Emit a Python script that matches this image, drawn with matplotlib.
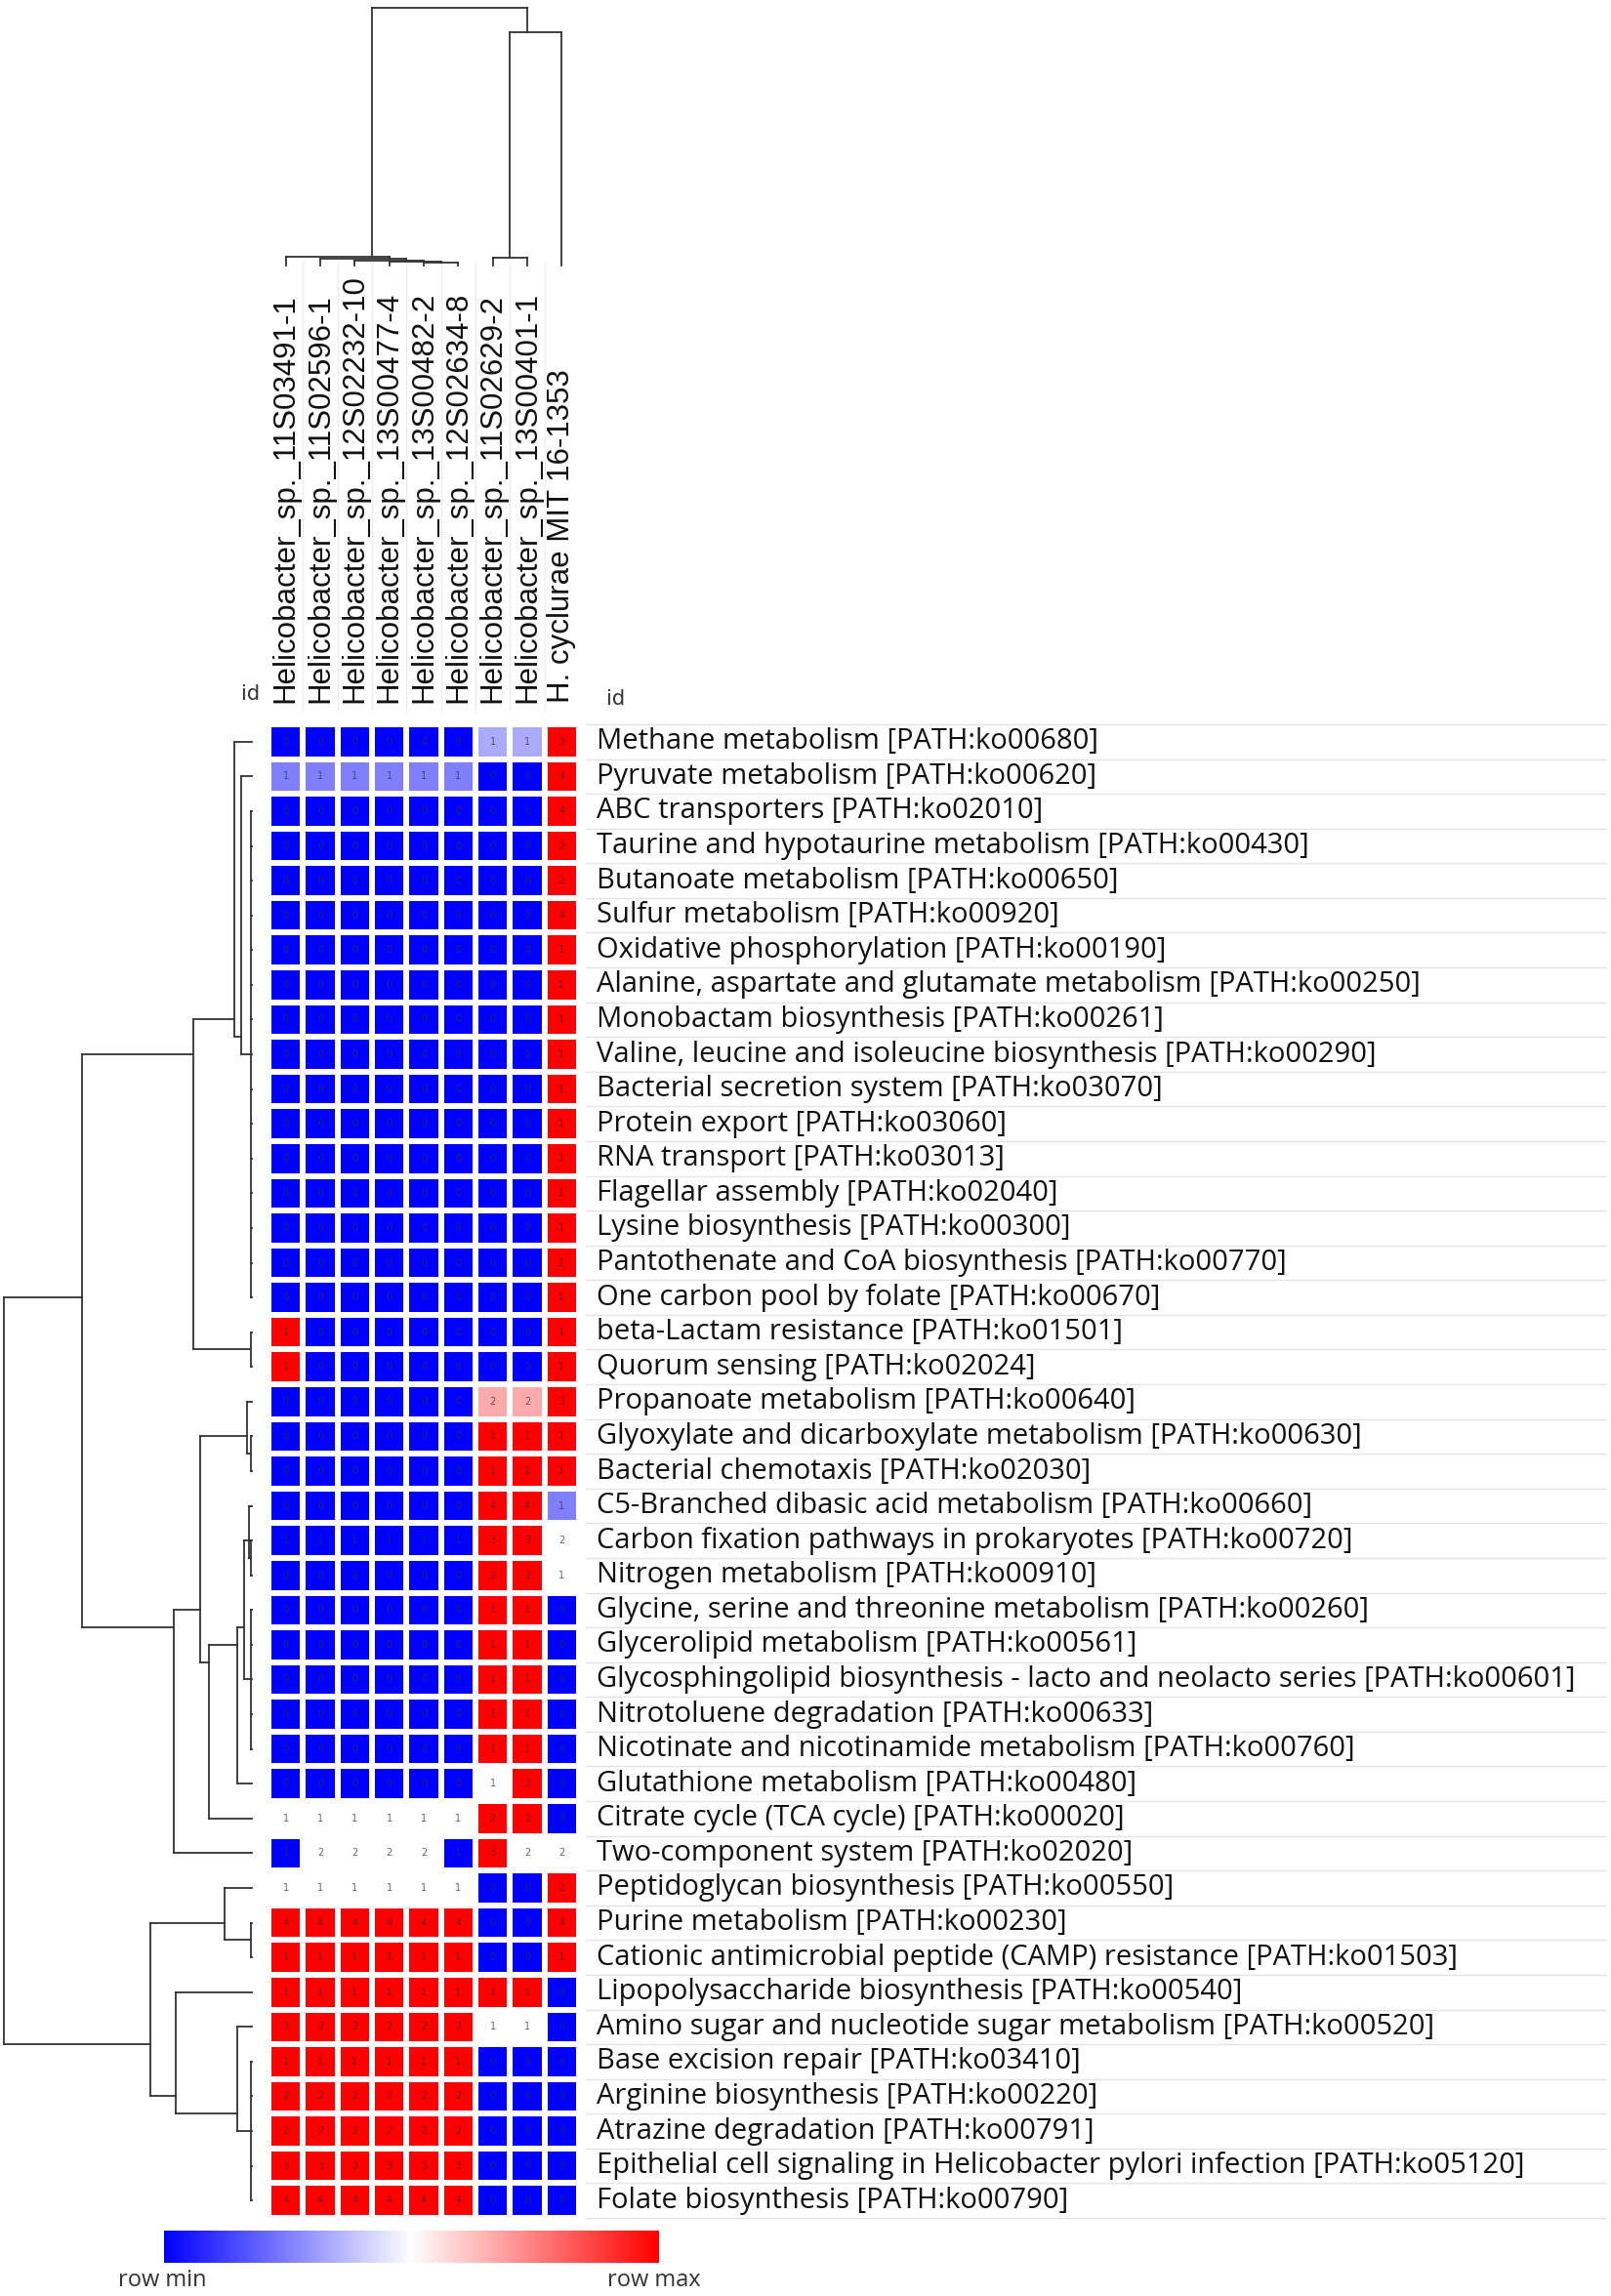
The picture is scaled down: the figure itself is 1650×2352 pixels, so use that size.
import numpy as np
import matplotlib
matplotlib.use("Agg")
import matplotlib.pyplot as plt
from matplotlib.colors import LinearSegmentedColormap

# column (genome) labels, left to right
genomes = ["Helicobacter_sp._11S03491-1", "Helicobacter_sp._11S02596-1",
           "Helicobacter_sp._12S02232-10", "Helicobacter_sp._13S00477-4",
           "Helicobacter_sp._13S00482-2", "Helicobacter_sp._12S02634-8",
           "Helicobacter_sp._11S02629-2", "Helicobacter_sp._13S00401-1",
           "H. cyclurae MIT 16-1353"]

# row (pathway) labels, top to bottom
pathways = [
    "Methane metabolism [PATH:ko00680]",
    "Pyruvate metabolism [PATH:ko00620]",
    "ABC transporters [PATH:ko02010]",
    "Taurine and hypotaurine metabolism [PATH:ko00430]",
    "Butanoate metabolism [PATH:ko00650]",
    "Sulfur metabolism [PATH:ko00920]",
    "Oxidative phosphorylation [PATH:ko00190]",
    "Alanine, aspartate and glutamate metabolism [PATH:ko00250]",
    "Monobactam biosynthesis [PATH:ko00261]",
    "Valine, leucine and isoleucine biosynthesis [PATH:ko00290]",
    "Bacterial secretion system [PATH:ko03070]",
    "Protein export [PATH:ko03060]",
    "RNA transport [PATH:ko03013]",
    "Flagellar assembly [PATH:ko02040]",
    "Lysine biosynthesis [PATH:ko00300]",
    "Pantothenate and CoA biosynthesis [PATH:ko00770]",
    "One carbon pool by folate [PATH:ko00670]",
    "beta-Lactam resistance [PATH:ko01501]",
    "Quorum sensing [PATH:ko02024]",
    "Propanoate metabolism [PATH:ko00640]",
    "Glyoxylate and dicarboxylate metabolism [PATH:ko00630]",
    "Bacterial chemotaxis [PATH:ko02030]",
    "C5-Branched dibasic acid metabolism [PATH:ko00660]",
    "Carbon fixation pathways in prokaryotes [PATH:ko00720]",
    "Nitrogen metabolism [PATH:ko00910]",
    "Glycine, serine and threonine metabolism [PATH:ko00260]",
    "Glycerolipid metabolism [PATH:ko00561]",
    "Glycosphingolipid biosynthesis - lacto and neolacto series [PATH:ko00601]",
    "Nitrotoluene degradation [PATH:ko00633]",
    "Nicotinate and nicotinamide metabolism [PATH:ko00760]",
    "Glutathione metabolism [PATH:ko00480]",
    "Citrate cycle (TCA cycle) [PATH:ko00020]",
    "Two-component system [PATH:ko02020]",
    "Peptidoglycan biosynthesis [PATH:ko00550]",
    "Purine metabolism [PATH:ko00230]",
    "Cationic antimicrobial peptide (CAMP) resistance [PATH:ko01503]",
    "Lipopolysaccharide biosynthesis [PATH:ko00540]",
    "Amino sugar and nucleotide sugar metabolism [PATH:ko00520]",
    "Base excision repair [PATH:ko03410]",
    "Arginine biosynthesis [PATH:ko00220]",
    "Atrazine degradation [PATH:ko00791]",
    "Epithelial cell signaling in Helicobacter pylori infection [PATH:ko05120]",
    "Folate biosynthesis [PATH:ko00790]",
]

# gene counts per pathway (rows) and genome (columns)
counts = [
    [0, 0, 0, 0, 0, 0, 1, 1, 3],
    [1, 1, 1, 1, 1, 1, 0, 0, 4],
    [0, 0, 0, 0, 0, 0, 0, 0, 4],
    [0, 0, 0, 0, 0, 0, 0, 0, 2],
    [0, 0, 0, 0, 0, 0, 0, 0, 2],
    [0, 0, 0, 0, 0, 0, 0, 0, 4],
    [0, 0, 0, 0, 0, 0, 0, 0, 1],
    [0, 0, 0, 0, 0, 0, 0, 0, 1],
    [0, 0, 0, 0, 0, 0, 0, 0, 1],
    [0, 0, 0, 0, 0, 0, 0, 0, 1],
    [0, 0, 0, 0, 0, 0, 0, 0, 1],
    [0, 0, 0, 0, 0, 0, 0, 0, 1],
    [0, 0, 0, 0, 0, 0, 0, 0, 1],
    [0, 0, 0, 0, 0, 0, 0, 0, 1],
    [0, 0, 0, 0, 0, 0, 0, 0, 1],
    [0, 0, 0, 0, 0, 0, 0, 0, 1],
    [0, 0, 0, 0, 0, 0, 0, 0, 1],
    [1, 0, 0, 0, 0, 0, 0, 0, 1],
    [1, 0, 0, 0, 0, 0, 0, 0, 1],
    [0, 0, 0, 0, 0, 0, 2, 2, 3],
    [0, 0, 0, 0, 0, 0, 1, 1, 1],
    [0, 0, 0, 0, 0, 0, 1, 1, 1],
    [0, 0, 0, 0, 0, 0, 4, 4, 1],
    [1, 1, 1, 1, 1, 1, 3, 3, 2],
    [0, 0, 0, 0, 0, 0, 2, 2, 1],
    [0, 0, 0, 0, 0, 0, 1, 1, 0],
    [0, 0, 0, 0, 0, 0, 1, 1, 0],
    [0, 0, 0, 0, 0, 0, 1, 1, 0],
    [0, 0, 0, 0, 0, 0, 1, 1, 0],
    [0, 0, 0, 0, 0, 0, 1, 1, 0],
    [0, 0, 0, 0, 0, 0, 1, 2, 0],
    [1, 1, 1, 1, 1, 1, 2, 2, 0],
    [1, 2, 2, 2, 2, 1, 3, 2, 2],
    [1, 1, 1, 1, 1, 1, 0, 0, 2],
    [4, 4, 4, 4, 4, 4, 0, 0, 4],
    [1, 1, 1, 1, 1, 1, 0, 0, 1],
    [1, 1, 1, 1, 1, 1, 1, 1, 0],
    [2, 2, 2, 2, 2, 2, 1, 1, 0],
    [1, 1, 1, 1, 1, 1, 0, 0, 0],
    [2, 2, 2, 2, 2, 2, 0, 0, 0],
    [2, 2, 2, 2, 2, 2, 0, 0, 0],
    [3, 3, 3, 3, 3, 3, 0, 0, 0],
    [4, 4, 4, 4, 4, 4, 0, 0, 0],
]

# dendrograms: [height, child, child, ...], leaves are row/column indices
row_tree = [758,
            [520,
             [180,
              [55, 0, [32, 1, [2] + list(range(2, 17))]],
              [2, 17, 18]],
             [240,
              [158,
               [15, 19, [3, 20, 21]],
               [130,
                [45,
                 [25, [10, 22, [4, 23, 24]], [2, 25, 26, 27, 28, 29]],
                 30],
                31]],
              32]],
            [310,
             [85, 33, [2, 34, 35]],
             [232, 36, [45, 37, [2, 38, 39, 40, 41, 42]]]]]

col_tree = [1.0,
            [0.035, 0, [0.025, 1, [0.02, 2, [0.015, 3, [0.01, 4, 5]]]]],
            [0.906, [0.03, 6, 7], 8]]

W, H = 1650, 2352
fig = plt.figure(figsize=(W / 100, H / 100), dpi=100)
fig.patch.set_facecolor("white")


def box(x0, y0, x1, y1):
    # pixel box (top-left origin) -> figure axes rect
    return [x0 / W, 1 - y1 / H, (x1 - x0) / W, (y1 - y0) / H]


def leaves(node):
    if isinstance(node, int):
        return [node]
    out = []
    for c in node[1:]:
        out += leaves(c)
    return out


def draw_tree(ax, node, horizontal):
    # returns (position, height) of the node
    if isinstance(node, int):
        return node + 0.5, 0.0
    lv = leaves(node)
    pos = (min(lv) + max(lv)) / 2 + 0.5
    h = node[0]
    kids = [draw_tree(ax, c, horizontal) for c in node[1:]]
    ps = [k[0] for k in kids]
    for p, ch in kids:
        if horizontal:
            ax.plot([ch, h], [p, p], color="#333333", lw=1.3, clip_on=False)
        else:
            ax.plot([p, p], [ch, h], color="#333333", lw=1.3, clip_on=False)
    if horizontal:
        ax.plot([h, h], [min(ps), max(ps)], color="#333333", lw=1.3, clip_on=False)
    else:
        ax.plot([min(ps), max(ps)], [h, h], color="#333333", lw=1.3, clip_on=False)
    return pos, h


data = np.array(counts, dtype=float)
nr, nc = data.shape
rmin = data.min(axis=1, keepdims=True)
rmax = data.max(axis=1, keepdims=True)
rel = (data - rmin) / np.where(rmax > rmin, rmax - rmin, 1)

cmap = LinearSegmentedColormap.from_list("bwr_m", ["#0000ff", "#ffffff", "#ff0000"])

# heatmap
ax = fig.add_axes(box(275, 742, 593, 2272))
ax.pcolormesh(np.arange(nc + 1), np.arange(nr + 1), rel, cmap=cmap, vmin=0, vmax=1,
              edgecolors="white", linewidth=3)
ax.set_xlim(0, nc)
ax.set_ylim(nr, 0)
ax.axis("off")
for i in range(nr):
    for j in range(nc):
        ax.text(j + 0.5, i + 0.5, "%d" % counts[i][j], ha="center", va="center",
                fontsize=7, color="#333333", alpha=0.75)

# column labels
for j, g in enumerate(genomes):
    ax.text(j + 0.5, -0.62, g, rotation=90, ha="center", va="bottom",
            fontsize=22.5, color="#111111", family="Liberation Sans")
    if j > 0:
        ax.plot([j, j], [-0.4, -13.3], color="#eeeeee", lw=1, clip_on=False, zorder=0)
ax.text(-0.25, -0.6, "id", ha="right", va="bottom", fontsize=15, color="#333333")

# row labels with light separators
axl = fig.add_axes(box(600, 742, 1645, 2272))
axl.set_xlim(0, 1)
axl.set_ylim(nr, 0)
axl.axis("off")
for i, p in enumerate(pathways):
    axl.text(0.011, i + 0.5, p, ha="left", va="center", fontsize=21,
             color="#111111", family="Open Sans")
for i in range(nr + 1):
    axl.plot([0, 1], [i, i], color="#e4e4e4", lw=1, clip_on=False, zorder=0)
axl.text(0.02, -0.45, "id", ha="left", va="bottom", fontsize=15, color="#333333")

# row dendrogram
axr = fig.add_axes(box(4, 742, 258, 2272))
axr.set_xlim(758, 0)
axr.set_ylim(nr, 0)
axr.axis("off")
draw_tree(axr, row_tree, True)

# column dendrogram
axc = fig.add_axes(box(275, 8, 593, 272))
axc.set_xlim(0, nc)
axc.set_ylim(0, 1.0)
axc.axis("off")
draw_tree(axc, col_tree, False)

# colour bar
axb = fig.add_axes(box(168, 2285, 675, 2318))
axb.imshow(np.linspace(0, 1, 256)[None, :], aspect="auto", cmap=cmap,
           extent=[0, 1, 0, 1])
axb.axis("off")
fig.text(166 / W, 1 - 2336 / H, "row min", ha="center", va="center", fontsize=17,
         color="#333333", family="Open Sans")
fig.text(670 / W, 1 - 2336 / H, "row max", ha="center", va="center", fontsize=17,
         color="#333333", family="Open Sans")

fig.savefig("out.png", dpi=100, facecolor="white")
